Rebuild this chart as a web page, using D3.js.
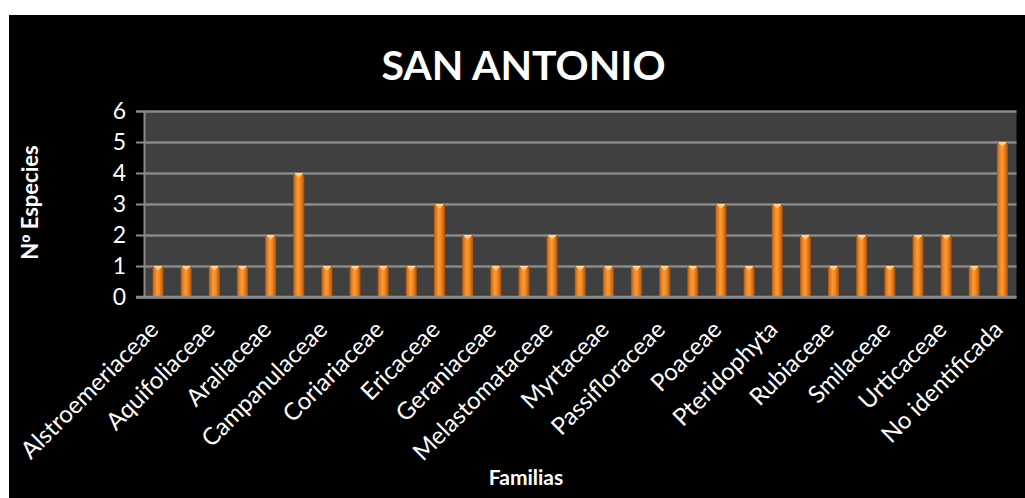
<!DOCTYPE html>
<html>
<head>
<meta charset="utf-8">
<script src="https://cdn.jsdelivr.net/npm/d3@7"></script>
<style>
  html, body { margin: 0; padding: 0; background: #ffffff; }
  svg { display: block; }
  text { font-family: Lato, "Open Sans", sans-serif; fill: #ffffff; }
</style>
</head>
<body>
<svg id="chart" width="1025" height="498"></svg>
<script>
// Familias botánicas registradas en San Antonio y número de especies por familia
const familias = [
  "Alstroemeriaceae", "Apiaceae", "Aquifoliaceae", "Araceae", "Araliaceae",
  "Asteraceae", "Campanulaceae", "Clusiaceae", "Coriariaceae", "Cunoniaceae",
  "Ericaceae", "Gentianaceae", "Geraniaceae", "Lamiaceae", "Melastomataceae",
  "Myrsinaceae", "Myrtaceae", "Orchidaceae", "Passifloraceae", "Piperaceae",
  "Poaceae", "Polygalaceae", "Pteridophyta", "Rosaceae", "Rubiaceae",
  "Scrophulariaceae", "Smilaceae", "Solanaceae", "Urticaceae", "Valerianaceae",
  "No identificada"
];
const especies = [
  1, 1, 1, 1, 2,
  4, 1, 1, 1, 1,
  3, 2, 1, 1, 2,
  1, 1, 1, 1, 1,
  3, 1, 3, 2, 1,
  2, 1, 2, 2, 1,
  5
];
const yTicks = [0, 1, 2, 3, 4, 5, 6];

const titulo = "SAN ANTONIO";
const tituloX = "Familias";

const svg = d3.select("#chart");
const W = 1025, H = 498;

// fondo negro del gráfico
svg.append("rect").attr("x", 9).attr("y", 15).attr("width", W - 9).attr("height", H - 15)
  .attr("fill", "#000000");

const plot = { left: 144, right: 1016.5, top: 111, bottom: 297 };

const x = d3.scaleBand().domain(familias).range([plot.left, plot.right])
  .paddingInner(0.61).paddingOuter(0.305);
const y = d3.scaleLinear().domain([0, 6]).range([plot.bottom, plot.top]);

// degradados de las barras
const defs = svg.append("defs");
const grad = defs.append("linearGradient").attr("id", "barGrad")
  .attr("x1", "0%").attr("x2", "100%").attr("y1", "0%").attr("y2", "0%");
[[0, "#b0560d"], [0.18, "#e27c1d"], [0.42, "#fb9a35"], [0.62, "#f38b27"], [0.85, "#cc6810"], [1, "#a44e0b"]]
  .forEach(([o, c]) => grad.append("stop").attr("offset", o).attr("stop-color", c));
const capGrad = defs.append("linearGradient").attr("id", "capGrad")
  .attr("x1", "0%").attr("x2", "0%").attr("y1", "0%").attr("y2", "100%");
[[0, "#fde3a6"], [1, "#f6a748"]]
  .forEach(([o, c]) => capGrad.append("stop").attr("offset", o).attr("stop-color", c));

// área de trazado
svg.append("rect").attr("x", plot.left).attr("y", plot.top)
  .attr("width", plot.right - plot.left).attr("height", plot.bottom - plot.top)
  .attr("fill", "#404040");

// líneas de división y marcas del eje Y
const yAxis = d3.axisLeft(y).tickValues(yTicks).tickSize(8).tickPadding(10)
  .tickFormat(d3.format("d"));
const gy = svg.append("g").attr("transform", `translate(${plot.left},0)`).call(yAxis);
gy.select(".domain").attr("stroke", "#8a8a8a").attr("stroke-width", 2);
gy.selectAll(".tick line").attr("stroke", "#8a8a8a").attr("stroke-width", 2);
gy.selectAll(".tick text").attr("fill", "#ffffff").style("font-size", "23px")
  .style("font-family", "Lato, sans-serif");
gy.selectAll(".tick").append("line")
  .attr("x1", 0).attr("x2", plot.right - plot.left)
  .attr("stroke", "#8a8a8a").attr("stroke-width", 2.5);

// barras
const bars = svg.append("g").selectAll("g").data(familias).join("g");
bars.append("rect")
  .attr("x", d => x(d))
  .attr("y", (d, i) => y(especies[i]))
  .attr("width", x.bandwidth())
  .attr("height", (d, i) => y(0) - y(especies[i]))
  .attr("fill", "url(#barGrad)");
bars.append("path")
  .attr("d", (d, i) => {
    const x0 = x(d), x1 = x0 + x.bandwidth(), yt = y(especies[i]);
    const xm = (x0 + x1) / 2;
    return `M${x0 + 1},${yt} L${x1 - 1},${yt} L${xm},${yt + 5} Z`;
  })
  .attr("fill", "url(#capGrad)");

// eje X
const xAxis = d3.axisBottom(x).tickSize(0).tickPadding(0)
  .tickFormat((d, i) => (i % 2 === 0 ? d : ""));
const gx = svg.append("g").attr("transform", `translate(0,${plot.bottom})`).call(xAxis);
gx.select(".domain").remove();
svg.append("line").attr("x1", plot.left - 8).attr("x2", plot.right)
  .attr("y1", plot.bottom).attr("y2", plot.bottom)
  .attr("stroke", "#8a8a8a").attr("stroke-width", 2.5);
gx.selectAll(".tick text")
  .attr("fill", "#ffffff")
  .style("font-size", "24px")
  .style("font-family", "Lato, sans-serif")
  .attr("text-anchor", "end")
  .attr("dy", null)
  .attr("y", 0)
  .attr("transform", "translate(2,34) rotate(-45)");

// títulos
svg.append("text").attr("x", 523.5).attr("y", 80).attr("text-anchor", "middle")
  .style("font-size", "41px").style("font-weight", "bold").text(titulo);
const ty = svg.append("text").attr("transform", "translate(38,202.5) rotate(-90)")
  .attr("text-anchor", "middle").style("font-size", "22px").style("font-weight", "bold");
ty.append("tspan").text("N");
ty.append("tspan").style("font-family", "'Liberation Sans', 'DejaVu Sans', sans-serif").text("º");
ty.append("tspan").text(" Especies");
svg.append("text").attr("x", 526).attr("y", 485).attr("text-anchor", "middle")
  .style("font-size", "21px").style("font-weight", "bold").text(tituloX);
</script>
</body>
</html>
